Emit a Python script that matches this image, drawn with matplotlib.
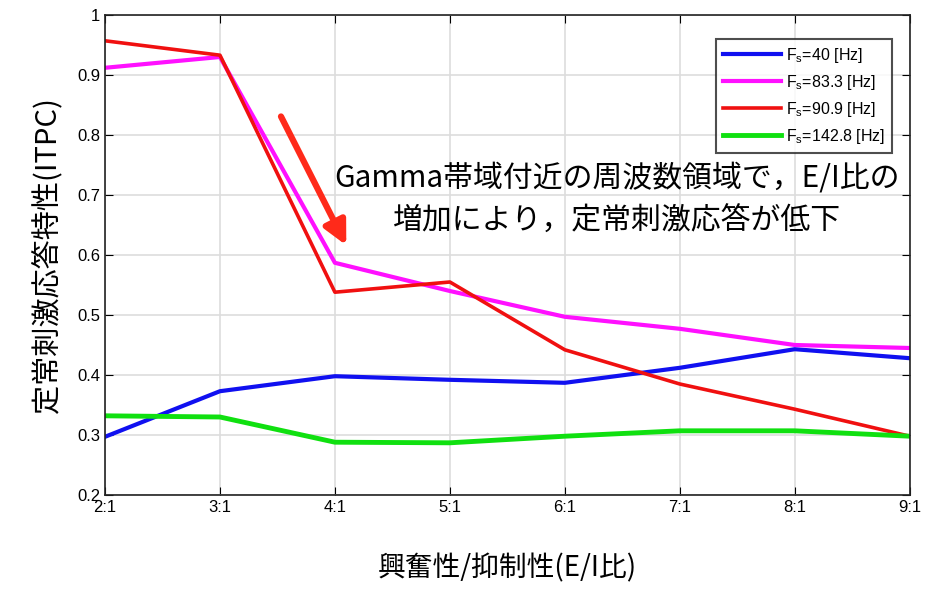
import numpy as np
import matplotlib.pyplot as plt

plt.rcParams['font.family'] = ['Noto Sans CJK JP', 'DejaVu Sans']

ratios = ['2:1', '3:1', '4:1', '5:1', '6:1', '7:1', '8:1', '9:1']
fs_40 = [0.297, 0.373, 0.398, 0.392, 0.387, 0.412, 0.443, 0.428]
fs_83 = [0.912, 0.930, 0.587, 0.540, 0.497, 0.477, 0.450, 0.445]
fs_90 = [0.957, 0.933, 0.538, 0.555, 0.442, 0.385, 0.343, 0.298]
fs_142 = [0.332, 0.330, 0.288, 0.287, 0.298, 0.307, 0.307, 0.298]


def main():
    fig = plt.figure(figsize=(9.25, 5.9), dpi=100)
    ax = fig.add_axes([0.1135, 0.161, 0.870, 0.8136])
    x = np.arange(len(ratios))

    ax.plot(x, fs_40, color='#1010f0', lw=3, label=r'F$_\mathregular{s}$=40 [Hz]')
    ax.plot(x, fs_83, color='#ff10ff', lw=3, label=r'F$_\mathregular{s}$=83.3 [Hz]')
    ax.plot(x, fs_90, color='#f01010', lw=2.6, label=r'F$_\mathregular{s}$=90.9 [Hz]')
    ax.plot(x, fs_142, color='#10e010', lw=3.5, label=r'F$_\mathregular{s}$=142.8 [Hz]')

    ax.set_xlim(0, len(ratios) - 1)
    ax.set_ylim(0.2, 1.0)
    ax.set_xticks(x)
    ax.set_xticklabels(ratios)
    ax.set_yticks(np.arange(0.2, 1.01, 0.1))
    ax.set_yticklabels(['0.2', '0.3', '0.4', '0.5', '0.6', '0.7', '0.8', '0.9', '1'])
    ax.tick_params(direction='in', top=True, right=True, labelsize=12, length=6)
    for lab in ax.get_xticklabels() + ax.get_yticklabels():
        lab.set_fontfamily('Liberation Sans')
    ax.grid(True, color='#dddddd', lw=1.2)
    for s in ax.spines.values():
        s.set_linewidth(1.2)
        s.set_color('#222222')

    ax.set_ylabel('定常刺激応答特性(ITPC)', fontsize=21, labelpad=10)
    ax.set_xlabel('興奮性/抑制性(E/I比)', fontsize=20, labelpad=28)

    leg = ax.legend(loc='upper right', bbox_to_anchor=(0.988, 0.967), fontsize=11.5,
                    frameon=True, fancybox=False, edgecolor='#222222',
                    handlelength=3.6, handletextpad=0.3, labelspacing=0.5,
                    borderpad=0.45)
    leg.get_frame().set_linewidth(1.5)
    for t in leg.get_texts():
        t.set_fontfamily('Liberation Sans')

    ax.annotate('', xy=(2.11, 0.612), xytext=(1.52, 0.835),
                arrowprops=dict(arrowstyle='-|>,head_width=0.7,head_length=1.4',
                                color='#ff2a1a', lw=4.5))
    ax.text(4.45, 0.692, 'Gamma帯域付近の周波数領域で，E/I比の\n増加により，定常刺激応答が低下',
            ha='center', va='center', fontsize=21.5, linespacing=1.5)

    plt.savefig('out.png', dpi=100)
    plt.close()


if __name__ == '__main__':
    main()
